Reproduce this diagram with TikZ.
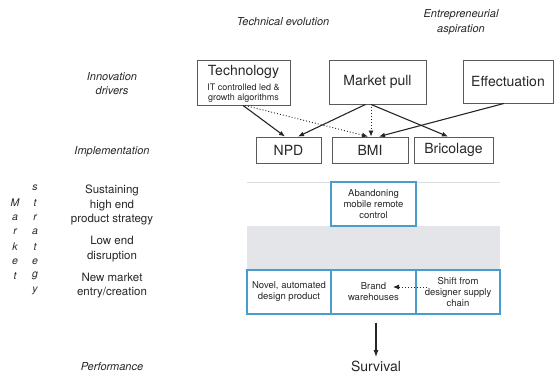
\documentclass[tikz,border=0pt]{standalone}
\usepackage{fontspec}
\setmainfont{TeX Gyre Heros}
\usetikzlibrary{arrows.meta,calc}
\definecolor{ink}{HTML}{262626}
\definecolor{boxline}{HTML}{5A5A5A}
\definecolor{cellblue}{HTML}{4A9CCD}
\definecolor{band}{HTML}{E4E5E8}
\definecolor{rule}{HTML}{DCDCDC}
\tikzset{
  topbox/.style={draw=boxline, line width=0.9pt, inner sep=0pt, text=ink},
  bigtext/.style={font=\fontsize{14}{16}\selectfont, text=ink},
  cell/.style={draw=cellblue, line width=1.2pt, inner sep=0pt, align=center,
    text=ink, font=\fontsize{9.5}{11}\selectfont},
  rowlabel/.style={align=center, text=ink, font=\fontsize{11.5}{14.5}\selectfont},
  headlabel/.style={align=center, text=ink, font=\fontsize{11}{14}\selectfont\itshape},
  vletter/.style={text=ink, font=\fontsize{10.5}{12}\selectfont\itshape, inner sep=0pt},
  link/.style={draw=ink, line width=1.1pt, -{Latex[length=6pt,width=5pt]}},
  dotlink/.style={link, line width=0.9pt, dash pattern=on 1pt off 2pt},
}
\begin{document}
\begin{tikzpicture}[x=1pt,y=-1pt]
\useasboundingbox (0,0) rectangle (555,374);

% column headings
\node[headlabel] (techevo) at (283,22) {Technical evolution};
\node[headlabel, font=\fontsize{11}{14.5}\selectfont\itshape] (entre) at (461,22) {Entrepreneurial\\aspiration};

% row headings
\node[headlabel] (drivers) at (112,84) {Innovation\\drivers};
\node[headlabel] (impl) at (112,152) {Implementation};
\node[rowlabel] (sust) at (112,205) {Sustaining\\high end\\product strategy};
\node[rowlabel] (lowend) at (112,249) {Low end\\disruption};
\node[rowlabel] (newmkt) at (112,285.5) {New market\\entry/creation};
\node[headlabel] (perf) at (112,367) {Performance};

% vertical "Market strategy" caption
\foreach \ch [count=\i from 0] in {M,a,r,k,e,t}
  \node[vletter] (mk\i) at (15,202.7+14.7*\i) {\ch};
\foreach \ch [count=\i from 0] in {s,t,r,a,t,e,g,y}
  \node[vletter] (st\i) at (35,188+14.7*\i) {\ch};

% innovation drivers
\node[topbox, minimum width=93pt, minimum height=45pt] (tech) at (243.5,82.5) {};
\node[bigtext] (techname) at (243.5,72) {Technology};
\node[align=center, text=ink, font=\fontsize{9}{10.5}\selectfont] (techsub) at (243.5,93)
  {IT controlled led \&\\growth algorithms};
\node[topbox, bigtext, minimum width=97pt, minimum height=44pt] (mpull) at (377.5,82) {Market pull};
\node[topbox, bigtext, minimum width=90pt, minimum height=43pt] (effect) at (508,81.5) {Effectuation};

% implementation
\node[topbox, bigtext, minimum width=65pt, minimum height=26pt] (npd) at (288.5,150) {NPD};
\node[topbox, bigtext, minimum width=76pt, minimum height=26pt] (bmi) at (370,150) {BMI};
\node[topbox, bigtext, minimum width=79pt, minimum height=26pt] (brico) at (453.5,150) {Bricolage};

% links between drivers and implementation
\draw[link] ($(tech.south)+(-0.5,0)$) -- ($(npd.north)+(-3.5,0)$);
\draw[dotlink] ($(tech.south)+(1.5,0)$) -- ($(bmi.north)+(-2,0)$);
\draw[link] ($(mpull.south)+(-12,0)$) -- ($(npd.north)+(9.5,0)$);
\draw[dotlink] ($(mpull.south)+(-6.5,0)$) -- ($(bmi.north)+(1,0)$);
\draw[link] ($(mpull.south)+(-6.5,0)$) -- ($(brico.north)+(-5.5,0)$);
\draw[link] ($(effect.south)+(-4,0)$) -- ($(bmi.north)+(9,0)$);

% market strategy grid
\fill[band] (247,226) rectangle (500,270);
\coordinate (gridtl) at (247,182);
\coordinate (gridtr) at (500,182);
\draw[rule, line width=0.8pt] (gridtl) -- (gridtr);
\node[cell, minimum width=85pt, minimum height=44pt] (abandon) at (373.5,204)
  {Abandoning\\mobile remote\\control};
\node[cell, minimum width=84pt, minimum height=44pt] (novel) at (289,292)
  {Novel, automated\\design product};
\node[cell, minimum width=85pt, minimum height=44pt] (brand) at (373.5,292)
  {Brand\\warehouses};
\node[cell, minimum width=84pt, minimum height=44pt] (shift) at (458,292)
  {Shift from\\designer supply\\chain};
\coordinate (shiftout) at (427,287);
\coordinate (brandin) at (393,287);
\draw[dotlink] (shiftout) -- (brandin);

% performance
\node[bigtext] (surv) at (376,366) {Survival};
\coordinate (survtop) at ($(brand.south)+(2.5,8)$);
\draw[link, -{Latex[length=7pt,width=5pt]}] (survtop) -- (surv.north);
\end{tikzpicture}
\end{document}
